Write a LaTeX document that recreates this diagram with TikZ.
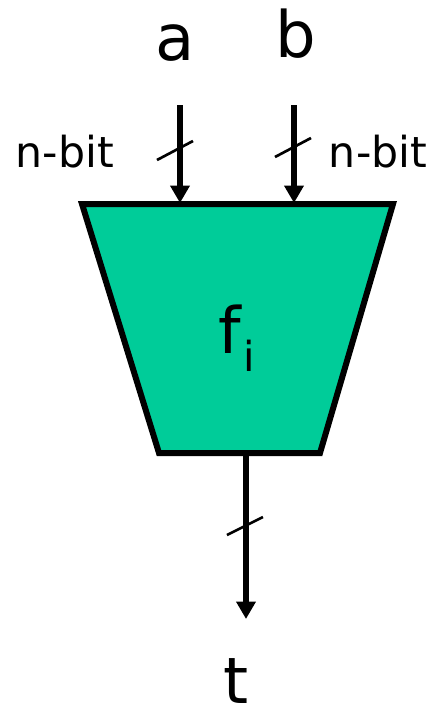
\documentclass[tikz,border=0pt]{standalone}
\usepackage{fontspec}
\setmainfont{DejaVu Sans}
\usetikzlibrary{arrows.meta}
\definecolor{mint}{HTML}{00CC99}
\tikzset{
  wire/.style={line width=4.5pt, -{Triangle[length=13pt,width=14pt]}},
  busmark/.style={line width=2pt},
  big/.style={font=\fontsize{48}{48}\selectfont, inner sep=0pt, anchor=base},
  lbl/.style={font=\fontsize{32}{32}\selectfont, inner sep=0pt, anchor=base},
}
\begin{document}
\begin{tikzpicture}[x=0.75pt,y=-0.75pt]
\useasboundingbox (0,0) rectangle (435,711);
% trapezoid
\coordinate (tl) at (82,204);
\coordinate (tr) at (393,204);
\coordinate (br) at (320,453);
\coordinate (bl) at (159,453);
\draw[line width=4.5pt, fill=mint, line join=miter] (tl) -- (tr) -- (br) -- (bl) -- cycle;
\node[big] (f) at (237,353) {f\hspace{2pt}\raisebox{-13.5pt}{\fontsize{31}{31}\selectfont i}};
% inputs
\node[big] (a) at (175,60) {a};
\node[big] (b) at (296,57) {b};
\coordinate (as) at (180,105);
\coordinate (ae) at (180,203);
\coordinate (bs) at (294,105);
\coordinate (be) at (294,203);
\draw[wire] (as) -- (ae);
\draw[wire] (bs) -- (be);
\coordinate (am1) at (157,160); \coordinate (am2) at (193,141);
\coordinate (bm1) at (275,157); \coordinate (bm2) at (311,138);
\draw[busmark] (am1) -- (am2);
\draw[busmark] (bm1) -- (bm2);
\node[lbl] (na) at (65,167) {n-bit};
\node[lbl] (nb) at (378,167) {n-bit};
% output
\coordinate (os) at (246,453);
\coordinate (oe) at (246,619);
\draw[wire] (os) -- (oe);
\coordinate (om1) at (227,535); \coordinate (om2) at (263,517);
\draw[busmark] (om1) -- (om2);
\node[big] (t) at (236,703) {t};
\end{tikzpicture}
\end{document}
